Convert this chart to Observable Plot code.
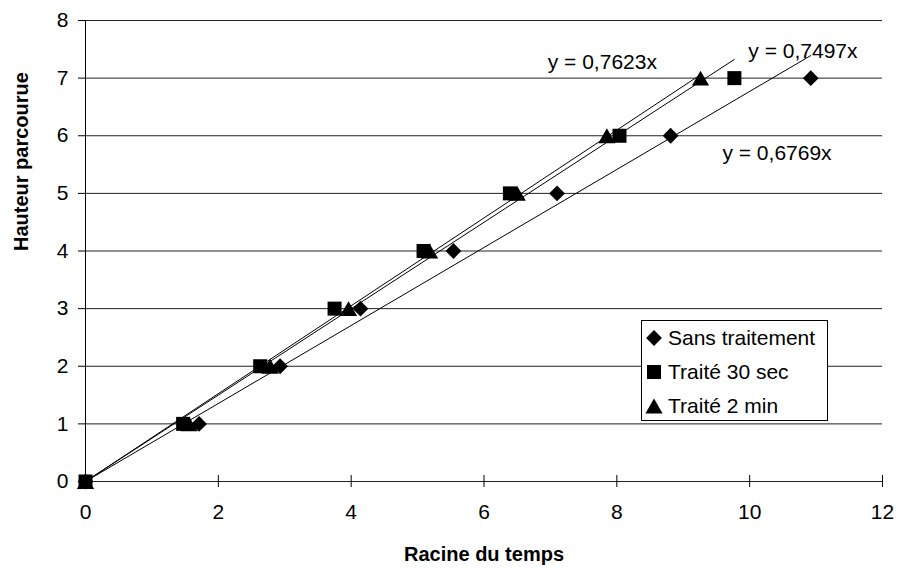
<!DOCTYPE html>
<html>
<head>
<meta charset="utf-8">
<script src="https://cdn.jsdelivr.net/npm/d3@7"></script>
<script src="https://cdn.jsdelivr.net/npm/@observablehq/plot@0.6"></script>
<style>
  html, body { margin: 0; padding: 0; background: #fff; }
  body { font-family: "Liberation Sans", Arial, sans-serif; }
  #wrap { position: relative; width: 897px; height: 569px; }
  #legend {
    position: absolute; left: 641px; top: 320px; width: 187px; height: 101px;
    border: 1px solid #000; background: #fff; box-sizing: border-box;
    font-size: 21px; color: #000;
  }
  #legend .item { position: absolute; left: 0; height: 30px; display: flex; align-items: center; white-space: nowrap; }
  #legend svg { display: block; }
</style>
</head>
<body>
<div id="wrap"></div>
<script>
// ---- data ----
const heights = [0, 1, 2, 3, 4, 5, 6, 7];                         // Hauteur parcourue
const sansTraitementX = [0, 1.71, 2.93, 4.14, 5.54, 7.10, 8.81, 10.92];
const traite30secX   = [0, 1.47, 2.63, 3.75, 5.09, 6.39, 8.04, 9.77];
const traite2minX    = [0, 1.56, 2.78, 3.96, 5.18, 6.50, 7.85, 9.26];
const seriesNames = ["Sans traitement", "Traité 30 sec", "Traité 2 min"];
const trendSlopes = [0.6769, 0.7497, 0.7623];
const trendLabels = ["y = 0,6769x", "y = 0,7497x", "y = 0,7623x"];
const xTicks = [0, 2, 4, 6, 8, 10, 12];
const yTicks = [0, 1, 2, 3, 4, 5, 6, 7, 8];
const xTitle = "Racine du temps";
const yTitle = "Hauteur parcourue";

// ---- presentation config ----
const seriesX = [sansTraitementX, traite30secX, traite2minX];
const symbols = ["diamond2", "square", "triangle"];
const symbolR = [7.1, 7.9, 6.4];
const symbolDy = [0, 0, 2.5];
const labelAnchor = [[9.59, 5.70], [9.98, 7.47], [6.96, 7.28]]; // label start positions in data units

const points = seriesNames.flatMap((name, i) =>
  heights.map((h, j) => ({ name, x: seriesX[i][j], y: h })));
const trend = seriesNames.flatMap((name, i) => {
  const xm = d3.max(seriesX[i]);
  return [{ name, x: 0, y: 0 }, { name, x: xm, y: trendSlopes[i] * xm }];
});
const labels = trendLabels.map((t, i) => ({ text: t, x: labelAnchor[i][0], y: labelAnchor[i][1] }));

const chart = Plot.plot({
  width: 897,
  height: 569,
  marginLeft: 85,
  marginRight: 15,
  marginTop: 20,
  marginBottom: 88,
  style: { fontFamily: "'Liberation Sans', Arial, sans-serif", color: "#000", background: "#fff" },
  x: { domain: [0, 12] },
  y: { domain: [0, 8] },
  marks: [
    Plot.gridY(yTicks, { stroke: "#222", strokeOpacity: 1, strokeWidth: 1 }),
    Plot.ruleX([0], { stroke: "#000" }),
    Plot.ruleX(xTicks, { y1: 0, y2: 0, insetTop: -6, insetBottom: 0, stroke: "#000" }),
    Plot.axisX(xTicks, { tickSize: 6, tickPadding: 17, fontSize: 21, label: null, tickFormat: d => d }),
    Plot.axisY(yTicks, { tickSize: 7, tickPadding: 10, fontSize: 21, label: null, tickFormat: d => d }),
    Plot.line(trend, { x: "x", y: "y", z: "name", stroke: "#000", strokeWidth: 1 }),
    ...seriesNames.map((name, i) =>
      Plot.dot(points, {
        filter: d => d.name === name,
        x: "x", y: "y", symbol: symbols[i], r: symbolR[i], dy: symbolDy[i],
        fill: "#000", stroke: "none"
      })),
    Plot.text(labels, { x: "x", y: "y", text: "text", textAnchor: "start", fontSize: 21, fill: "#000" }),
    Plot.text([xTitle], { frameAnchor: "bottom", dy: 79, text: d => d, fontSize: 20, fontWeight: "bold", fill: "#000" }),
    Plot.text([yTitle], { frameAnchor: "left", dx: -64, rotate: -90, text: d => d, fontSize: 20, fontWeight: "bold", fill: "#000" })
  ]
});

const wrap = document.getElementById("wrap");
wrap.appendChild(chart);

// ---- legend ----
const legend = document.createElement("div");
legend.id = "legend";
const legendSymbols = [d3.symbolDiamond2, d3.symbolSquare, d3.symbolTriangle];
seriesNames.forEach((name, i) => {
  const item = document.createElement("div");
  item.className = "item";
  item.style.top = (2 + i * 34) + "px";
  const size = Math.PI * symbolR[i] * symbolR[i];
  const svg = d3.create("svg").attr("width", 26).attr("height", 30);
  svg.append("path")
    .attr("d", d3.symbol(legendSymbols[i], size)())
    .attr("transform", `translate(12,${15 + symbolDy[i]})`)
    .attr("fill", "#000");
  item.appendChild(svg.node());
  const span = document.createElement("span");
  span.textContent = name;
  item.appendChild(span);
  legend.appendChild(item);
});
wrap.appendChild(legend);
</script>
</body>
</html>
